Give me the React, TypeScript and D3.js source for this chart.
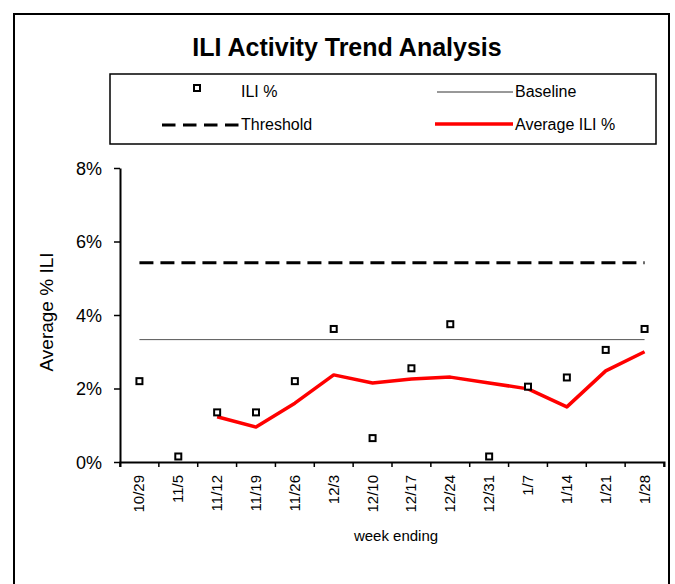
import { useEffect, useRef } from 'react';
import * as d3 from 'd3';

const weeks = ['10/29', '11/5', '11/12', '11/19', '11/26', '12/3', '12/10', '12/17', '12/24', '12/31', '1/7', '1/14', '1/21', '1/28'];
const iliPct = [2.2, 0.15, 1.35, 1.35, 2.2, 3.62, 0.65, 2.55, 3.75, 0.15, 2.05, 2.3, 3.05, 3.62];
const avgIli: (number | null)[] = [null, null, 1.23, 0.95, 1.6, 2.37, 2.15, 2.26, 2.31, 2.15, 1.99, 1.5, 2.48, 3.0];
const baselineValue = 3.33;
const thresholdValue = 5.42;
const yTicks = [0, 2, 4, 6, 8];

const FONT = 'Arial, "Liberation Sans", sans-serif';

const App = () => {
    const chartRef = useRef<SVGSVGElement | null>(null);

    useEffect(() => {
        const svg = d3.select(chartRef.current);
        svg.selectAll('*').remove();

        // outer frame (runs off the bottom of the picture)
        svg.append('rect')
            .attr('x', 14).attr('y', 14)
            .attr('width', 655).attr('height', 620)
            .attr('fill', 'white')
            .attr('stroke', 'black')
            .attr('stroke-width', 2);

        svg.append('text')
            .attr('x', 347).attr('y', 56)
            .attr('text-anchor', 'middle')
            .attr('font-family', FONT)
            .attr('font-weight', 'bold')
            .attr('font-size', 25)
            .text('ILI Activity Trend Analysis');

        // legend
        const lg = svg.append('g').attr('font-family', FONT).attr('font-size', 16);
        lg.append('rect')
            .attr('x', 110).attr('y', 74)
            .attr('width', 546).attr('height', 70)
            .attr('fill', 'none')
            .attr('stroke', 'black')
            .attr('stroke-width', 1.5);
        lg.append('rect')
            .attr('x', 194).attr('y', 85)
            .attr('width', 6).attr('height', 6)
            .attr('fill', 'white').attr('stroke', 'black').attr('stroke-width', 2);
        lg.append('text').attr('x', 241).attr('y', 97).text('ILI %');
        lg.append('line')
            .attr('x1', 437).attr('x2', 513).attr('y1', 92).attr('y2', 92)
            .attr('stroke', '#333').attr('stroke-width', 1);
        lg.append('text').attr('x', 515).attr('y', 97).text('Baseline');
        lg.append('line')
            .attr('x1', 162).attr('x2', 239).attr('y1', 125).attr('y2', 125)
            .attr('stroke', 'black').attr('stroke-width', 3)
            .attr('stroke-dasharray', '13.5,7.5');
        lg.append('text').attr('x', 241).attr('y', 130).text('Threshold');
        lg.append('line')
            .attr('x1', 435).attr('x2', 513).attr('y1', 124).attr('y2', 124)
            .attr('stroke', '#ff0000').attr('stroke-width', 3.5);
        lg.append('text').attr('x', 515).attr('y', 130).text('Average ILI %');

        const x = d3.scaleBand()
            .domain(weeks)
            .range([120, 664]);

        const y = d3.scaleLinear()
            .domain([0, 8])
            .range([462, 168]);

        const cx = (d: string) => (x(d) ?? 0) + x.bandwidth() / 2;

        // threshold + baseline
        svg.append('line')
            .attr('x1', cx(weeks[0])).attr('x2', cx(weeks[weeks.length - 1]))
            .attr('y1', y(thresholdValue)).attr('y2', y(thresholdValue))
            .attr('stroke', 'black').attr('stroke-width', 3)
            .attr('stroke-dasharray', '14,7');
        svg.append('line')
            .attr('x1', cx(weeks[0])).attr('x2', cx(weeks[weeks.length - 1]))
            .attr('y1', y(baselineValue)).attr('y2', y(baselineValue))
            .attr('stroke', '#555').attr('stroke-width', 1);

        // average line
        const line = d3.line<number | null>()
            .defined(d => d !== null)
            .x((_, i) => cx(weeks[i]))
            .y(d => y(d as number));
        svg.append('path')
            .datum(avgIli)
            .attr('d', line)
            .attr('fill', 'none')
            .attr('stroke', '#ff0000')
            .attr('stroke-width', 3.5)
            .attr('stroke-linejoin', 'round');

        // ILI % markers
        svg.append('g')
            .selectAll('rect')
            .data(iliPct)
            .enter()
            .append('rect')
            .attr('x', (_, i) => cx(weeks[i]) - 3)
            .attr('y', d => y(d) - 3)
            .attr('width', 6)
            .attr('height', 6)
            .attr('fill', 'white')
            .attr('stroke', 'black')
            .attr('stroke-width', 2);

        // axes
        const xAxis = svg.append('g')
            .attr('transform', 'translate(0,462)')
            .call(d3.axisBottom(x).tickSize(5).tickSizeOuter(5).tickFormat(() => ''));
        xAxis.select('.domain').attr('stroke-width', 2);
        xAxis.selectAll('.tick line').attr('stroke-width', 1.5)
            .attr('transform', `translate(${-x.bandwidth() / 2},0)`);
        svg.append('line')
            .attr('x1', 664).attr('x2', 664).attr('y1', 462).attr('y2', 467)
            .attr('stroke', 'black').attr('stroke-width', 1.5);

        svg.append('g')
            .selectAll('text')
            .data(weeks)
            .enter()
            .append('text')
            .attr('transform', d => `translate(${cx(d) + 5},475) rotate(-90)`)
            .attr('text-anchor', 'end')
            .attr('font-family', FONT)
            .attr('font-size', 15)
            .text(d => d);

        const yAxis = svg.append('g')
            .attr('transform', 'translate(120,0)')
            .call(d3.axisLeft(y).tickValues(yTicks).tickSize(6).tickSizeOuter(0).tickFormat(d => `${d}%`));
        yAxis.select('.domain').attr('stroke-width', 2);
        yAxis.selectAll('.tick line').attr('stroke-width', 1.5);
        yAxis.selectAll('.tick text')
            .attr('font-family', FONT)
            .attr('font-size', 18)
            .attr('x', -18)
            .attr('dy', '0.35em');

        svg.append('text')
            .attr('transform', 'translate(53,312) rotate(-90)')
            .attr('text-anchor', 'middle')
            .attr('font-family', FONT)
            .attr('font-size', 19)
            .text('Average % ILI');

        svg.append('text')
            .attr('x', 396).attr('y', 541)
            .attr('text-anchor', 'middle')
            .attr('font-family', FONT)
            .attr('font-size', 15)
            .text('week ending');
    }, []);

    return (
        <svg
            ref={chartRef}
            width={675}
            height={584}
            style={{ position: 'absolute', left: 0, top: 0, background: 'white' }}
        />
    );
};

export default App;
